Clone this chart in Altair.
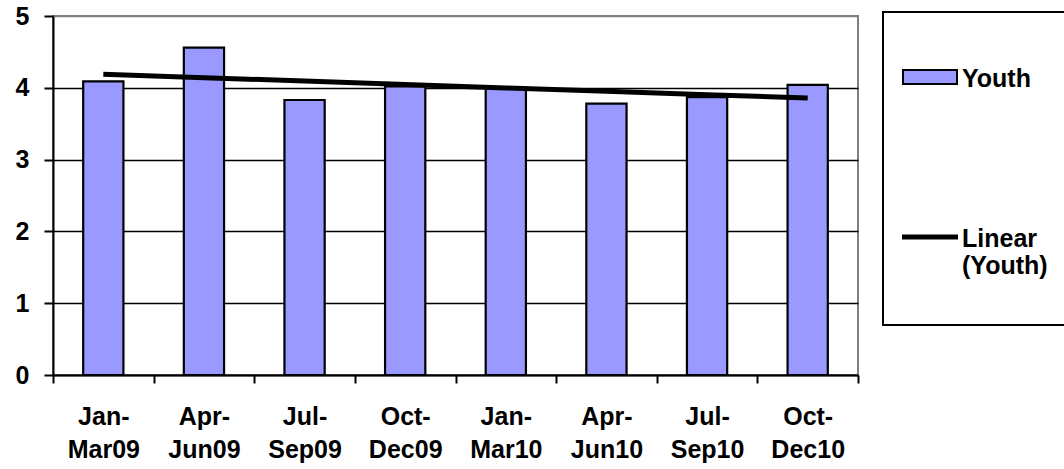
import altair as alt
import numpy as np
import pandas as pd

# Quarterly values for the Youth series
quarters = ["Jan-Mar09", "Apr-Jun09", "Jul-Sep09", "Oct-Dec09",
            "Jan-Mar10", "Apr-Jun10", "Jul-Sep10", "Oct-Dec10"]
youth = [4.09, 4.56, 3.83, 4.02, 3.99, 3.78, 3.87, 4.04]
series_names = ["Youth", "Linear (Youth)"]
y_ticks = [0, 1, 2, 3, 4, 5]

# Least-squares linear trend of the series
idx = np.arange(1, len(youth) + 1)
coef = np.polyfit(idx, youth, 1)
trend = np.polyval(coef, idx)

df = pd.DataFrame({
    "quarter": quarters,
    "youth": youth,
    "trend": trend,
    "series": ["Youth"] * len(quarters),
})

FONT = "Liberation Sans"
FS = 25
BAR_FILL = "#9999FF"
NB = "\u00a0"

x_enc = alt.X(
    "quarter:N",
    sort=quarters,
    scale=alt.Scale(paddingInner=0, paddingOuter=0),
    axis=alt.Axis(
        title=None,
        labelAngle=0,
        labelExpr="datum.label ? [split(datum.label, '-')[0] + '-', split(datum.label, '-')[1]] : ''",
        labelFontSize=FS,
        labelFontWeight="bold",
        labelColor="black",
        labelFont=FONT,
        labelPadding=21,
        labelLineHeight=33,
        tickBand="extent",
        tickSize=8,
        tickWidth=2,
        tickColor="black",
        domainColor="black",
        domainWidth=2,
    ),
)

y_scale = alt.Scale(domain=[0, 5], nice=False)
y_axis = alt.Axis(
    title=None,
    values=y_ticks,
    format="d",
    grid=True,
    gridColor={"condition": {"test": "datum.value === 5", "value": "#808080"}, "value": "black"},
    gridWidth=1.4,
    labelFontSize=FS,
    labelFontWeight="bold",
    labelColor="black",
    labelFont=FONT,
    labelPadding=15,
    tickSize=9,
    tickWidth=2,
    tickColor="black",
    domainColor="black",
    domainWidth=2,
)

bars = alt.Chart(df).mark_bar(width=alt.RelativeBandSize(0.4), color=BAR_FILL).encode(
    x=x_enc,
    y=alt.Y("youth:Q", scale=y_scale, axis=y_axis),
)

# Black frame drawn around each bar
bar_outline = alt.Chart(df).mark_bar(
    width=alt.RelativeBandSize(0.4), filled=False, color="black", strokeWidth=2.2
).encode(
    x=x_enc,
    y=alt.Y("youth:Q", scale=y_scale),
)

line = alt.Chart(df).mark_line(color="black", strokeWidth=5).encode(
    x=x_enc,
    y=alt.Y("trend:Q", scale=y_scale),
)

# Legend keys: a framed box for the bars, a thick stroke for the trend line
legend_box = "M-1,0.11L1,0.11L1,0.63L-1,0.63Z"
legend_bar = "M-1,0.315L1,0.315L1,0.426L-1,0.426Z"
legend_labels = (
    "datum.label == 'Linear (Youth)' ? "
    f"['Linear', '(Youth){NB*3}', '{NB}'] : datum.label"
)
legend = alt.Legend(
    title=NB,
    titleFontSize=4,
    titlePadding=4,
    orient="none",
    legendX=830,
    legendY=-4,
    padding=19,
    strokeColor="black",
    fillColor="white",
    symbolSize=2916,
    symbolStrokeColor="black",
    symbolStrokeWidth=2,
    symbolOpacity=1,
    labelFontSize=FS,
    labelFontWeight="bold",
    labelColor="black",
    labelFont=FONT,
    labelOffset=4,
    labelLimit=500,
    labelBaseline="top",
    labelExpr=legend_labels,
    rowPadding=107,
)
# Only the scales of this layer are used (for the legend); no rows pass the filter
keys = alt.Chart(df).mark_point(filled=True, opacity=1).encode(
    shape=alt.Shape("series:N", scale=alt.Scale(domain=series_names, range=[legend_box, legend_bar]), legend=legend),
    fill=alt.Fill("series:N", scale=alt.Scale(domain=series_names, range=[BAR_FILL, "black"]), legend=legend),
    stroke=alt.Stroke("series:N", scale=alt.Scale(domain=series_names, range=["black", "black"]), legend=legend),
    strokeWidth=alt.value(2),
).transform_filter("false")

chart = (
    alt.layer(bars, bar_outline, line, keys)
    .properties(
        width=805,
        height=359,
        autosize="none",
        padding={"left": 53, "top": 16, "right": 206, "bottom": 94},
        background="white",
    )
    .configure_view(fill="#C0C0C0", stroke="#808080", strokeWidth=2)
    .configure_legend(strokeWidth=2)
)

chart.save("out.html", embed_options={"renderer": "svg", "actions": False})
